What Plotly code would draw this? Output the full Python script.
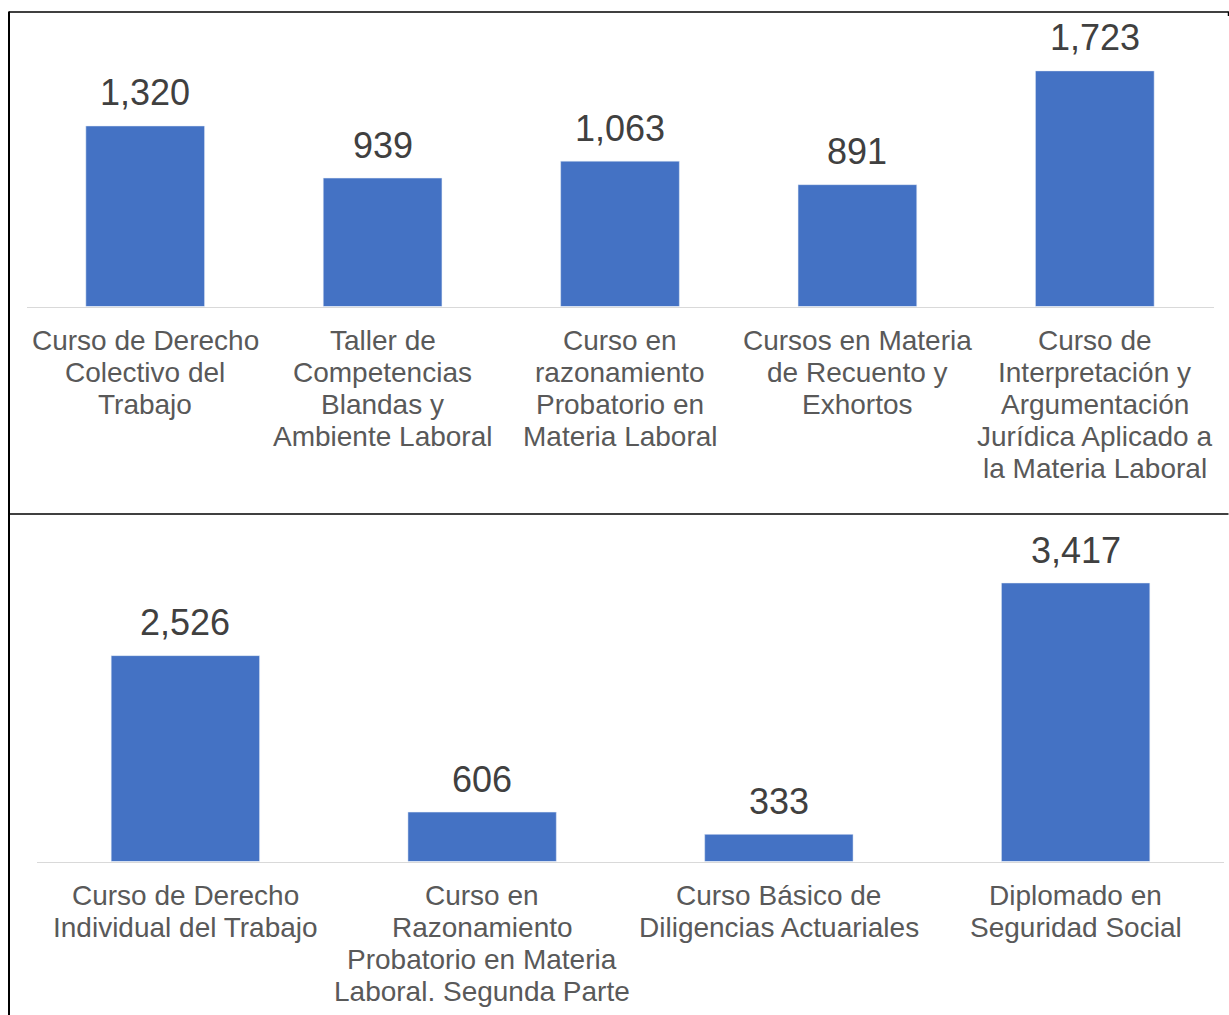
import plotly.graph_objects as go

# ---- data ----
top_labels = [
    ["Curso de Derecho", "Colectivo del", "Trabajo"],
    ["Taller de", "Competencias", "Blandas y", "Ambiente Laboral"],
    ["Curso en", "razonamiento", "Probatorio en", "Materia Laboral"],
    ["Cursos en Materia", "de Recuento y", "Exhortos"],
    ["Curso de", "Interpretación y", "Argumentación", "Jurídica Aplicado a", "la Materia Laboral"],
]
top_values = [1320, 939, 1063, 891, 1723]

bottom_labels = [
    ["Curso de Derecho", "Individual del Trabajo"],
    ["Curso en", "Razonamiento", "Probatorio en Materia", "Laboral. Segunda Parte"],
    ["Curso Básico de", "Diligencias Actuariales"],
    ["Diplomado en", "Seguridad Social"],
]
bottom_values = [2526, 606, 333, 3417]

top_cats = [" ".join(l) for l in top_labels]
bottom_cats = [" ".join(l) for l in bottom_labels]

# ---- layout constants (pixels) ----
W, H = 1229, 1015
FONT = "Arial, Liberation Sans, sans-serif"
BAR = "#4472C4"
VAL_COLOR = "#404040"
LAB_COLOR = "#595959"
AX_COLOR = "#D9D9D9"


def px_x(p):
    return p / W


def px_y(p):
    return 1 - p / H


fig = go.Figure()
fig.add_trace(go.Bar(x=top_cats, y=top_values, marker_color=BAR, width=0.5,
                     xaxis="x", yaxis="y", hoverinfo="x+y"))
fig.add_trace(go.Bar(x=bottom_cats, y=bottom_values, marker_color=BAR, width=0.5,
                     xaxis="x2", yaxis="y2", hoverinfo="x+y"))

annotations = []
for xref, yref, cats, vals, labels, first_line_y in [
    ("x", "y", top_cats, top_values, top_labels, 340),
    ("x2", "y2", bottom_cats, bottom_values, bottom_labels, 895),
]:
    for c, v, lines in zip(cats, vals, labels):
        annotations.append(dict(
            x=c, y=v, xref=xref, yref=yref, text=f"{v:,}", showarrow=False,
            yanchor="middle", yshift=33,
            font=dict(family=FONT, size=36, color=VAL_COLOR)))
        for i, line in enumerate(lines):
            annotations.append(dict(
                x=c, y=px_y(first_line_y), xref=xref, yref="paper", text=line,
                showarrow=False, yanchor="middle", yshift=-32.2 * i,
                font=dict(family=FONT, size=28, color=LAB_COLOR)))

shapes = [
    dict(type="line", xref="paper", yref="paper", x0=px_x(9), x1=px_x(1228.5),
         y0=px_y(12), y1=px_y(12), line=dict(color="black", width=1.5)),
    dict(type="line", xref="paper", yref="paper", x0=px_x(9), x1=px_x(1228.5),
         y0=px_y(514), y1=px_y(514), line=dict(color="black", width=1.5)),
    dict(type="line", xref="paper", yref="paper", x0=px_x(9), x1=px_x(9),
         y0=px_y(11.5), y1=0, line=dict(color="black", width=2)),
    dict(type="line", xref="paper", yref="paper", x0=px_x(1228.5), x1=px_x(1228.5),
         y0=px_y(11.5), y1=px_y(16), line=dict(color="black", width=1.5)),
]

axis_common = dict(showgrid=False, zeroline=False, showticklabels=False, ticks="",
                   fixedrange=True)

fig.update_layout(
    width=W, height=H,
    margin=dict(l=0, r=0, t=0, b=0),
    paper_bgcolor="white", plot_bgcolor="white",
    showlegend=False,
    font=dict(family=FONT),
    xaxis=dict(domain=[px_x(26.5), px_x(1213.5)], anchor="y", range=[-0.5, 4.5],
               showline=True, linecolor=AX_COLOR, linewidth=1.3, **axis_common),
    yaxis=dict(domain=[px_y(306.5), px_y(33)], anchor="x", range=[0, 2000],
               showline=False, **axis_common),
    xaxis2=dict(domain=[px_x(37), px_x(1224)], anchor="y2", range=[-0.5, 3.5],
                showline=True, linecolor=AX_COLOR, linewidth=1.3, **axis_common),
    yaxis2=dict(domain=[px_y(861.5), px_y(535.5)], anchor="x2", range=[0, 4000],
                showline=False, **axis_common),
    annotations=annotations,
    shapes=shapes,
)

fig.write_html("out.html")
